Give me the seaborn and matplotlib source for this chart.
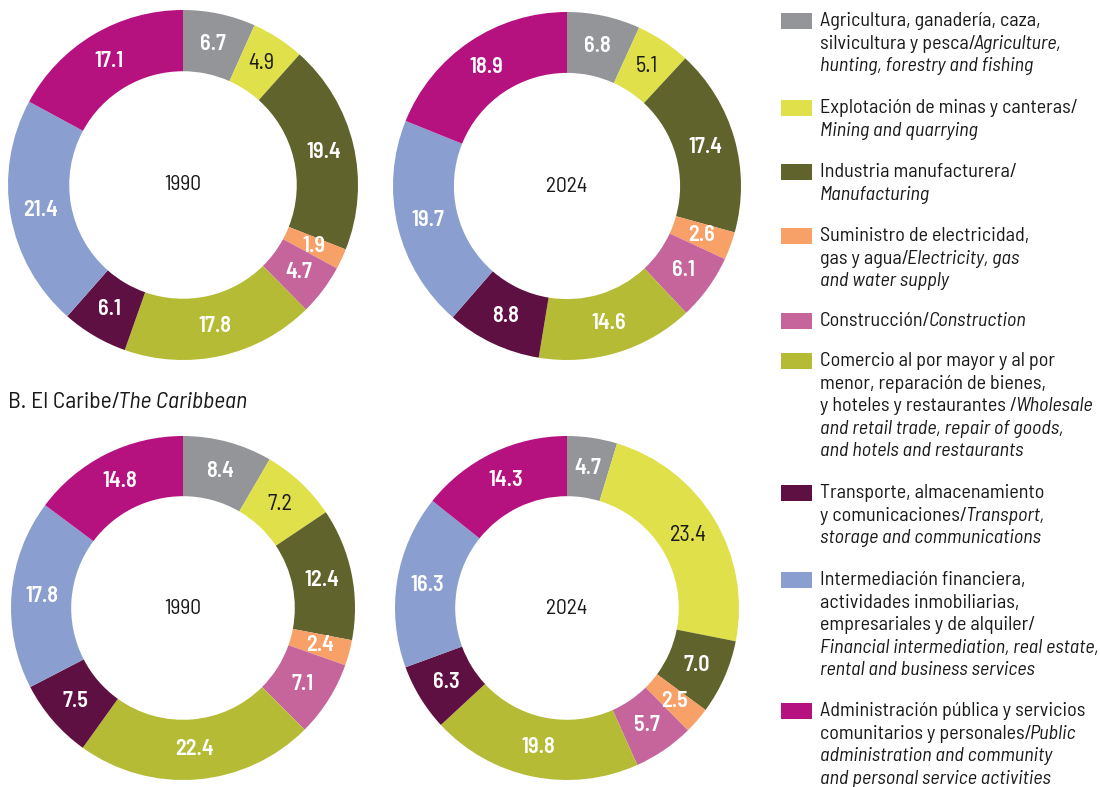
import matplotlib
matplotlib.use("Agg")
import matplotlib.pyplot as plt
from matplotlib import font_manager
import numpy as np
import seaborn as sns

sns.set_theme(style="white")
names = {f.name for f in font_manager.fontManager.ttflist}
FONT = "Barlow Semi Condensed" if "Barlow Semi Condensed" in names else "DejaVu Sans"
plt.rcParams["font.family"] = [FONT, "DejaVu Sans"]

# ---- data ----
sectors = [
    "Agricultura", "Minería", "Manufactura", "Electricidad", "Construcción",
    "Comercio", "Transporte", "Intermediación", "Administración",
]
colors = ["#939598", "#DFE04A", "#60632B", "#F7A068", "#C5659C",
          "#B5BB35", "#5F1042", "#8A9FCF", "#B5117F"]
la_1990 = [6.7, 4.9, 19.4, 1.9, 4.7, 17.8, 6.1, 21.4, 17.1]
la_2024 = [6.8, 5.1, 17.4, 2.6, 6.1, 14.6, 8.8, 19.7, 18.9]
car_1990 = [8.4, 7.2, 12.4, 2.4, 7.1, 22.4, 7.5, 17.8, 14.8]
car_2024 = [4.7, 23.4, 7.0, 2.5, 5.7, 19.8, 6.3, 16.3, 14.3]
years = ["1990", "2024", "1990", "2024"]
subtitle_regular = "B. El Caribe/"
subtitle_italic = "The Caribbean"

legend_lines = [
    [[("Agricultura, ganadería, caza,", "normal")],
     [("silvicultura y pesca/", "normal"), ("Agriculture,", "italic")],
     [("hunting, forestry and fishing", "italic")]],
    [[("Explotación de minas y canteras/", "normal")],
     [("Mining and quarrying", "italic")]],
    [[("Industria manufacturera/", "normal")],
     [("Manufacturing", "italic")]],
    [[("Suministro de electricidad,", "normal")],
     [("gas y agua/", "normal"), ("Electricity, gas", "italic")],
     [("and water supply", "italic")]],
    [[("Construcción/", "normal"), ("Construction", "italic")]],
    [[("Comercio al por mayor y al por", "normal")],
     [("menor, reparación de bienes,", "normal")],
     [("y hoteles y restaurantes /", "normal"), ("Wholesale", "italic")],
     [("and retail trade, repair of goods,", "italic")],
     [("and hotels and restaurants", "italic")]],
    [[("Transporte, almacenamiento", "normal")],
     [("y comunicaciones/", "normal"), ("Transport,", "italic")],
     [("storage and communications", "italic")]],
    [[("Intermediación financiera,", "normal")],
     [("actividades inmobiliarias,", "normal")],
     [("empresariales y de alquiler/", "normal")],
     [("Financial intermediation, real estate,", "italic")],
     [("rental and business services", "italic")]],
    [[("Administración pública y servicios", "normal")],
     [("comunitarios y personales/", "normal"), ("Public", "italic")],
     [("administration and community", "italic")],
     [("and personal service activities", "italic")]],
]

W, H = 1100, 787
fig = plt.figure(figsize=(W / 100, H / 100), dpi=100)
fig.patch.set_facecolor("white")
TXT = "#1a1a1a"


def px_axes(cx, cy, r):
    return fig.add_axes([(cx - r) / W, (H - cy - r) / H, 2 * r / W, 2 * r / H])


centers = [(183, 185, 175), (567, 186, 174), (183, 608, 172), (567, 608, 172)]
datasets = [la_1990, la_2024, car_1990, car_2024]
ring = 0.35
for (cx, cy, r), vals, yr in zip(centers, datasets, years):
    ax = px_axes(cx, cy, r)
    ax.pie(vals, colors=colors, startangle=90, counterclock=False,
           radius=1.0, wedgeprops=dict(width=ring, linewidth=0))
    cum = np.cumsum([0] + vals[:-1])
    total = sum(vals)
    rl = 1 - ring / 2
    for i, v in enumerate(vals):
        ang = np.deg2rad(90 - 360 * (cum[i] + v / 2) / total)
        dark = (i == 1)
        ax.text(rl * np.cos(ang), rl * np.sin(ang), f"{v:.1f}", ha="center",
                va="center", color=TXT if dark else "white", fontsize=16,
                fontweight="normal" if dark else "semibold")
    ax.text(0, 0, yr, ha="center", va="center", fontsize=15.5, color=TXT)
    ax.set_xlim(-1, 1)
    ax.set_ylim(-1, 1)
    ax.set_aspect("equal")
    ax.axis("off")

renderer = fig.canvas.get_renderer()

# subtitle
t1 = fig.text(8 / W, 1 - 402 / H, subtitle_regular, ha="left", va="center",
              fontsize=17, color=TXT)
bb = t1.get_window_extent(renderer)
fig.text((bb.x1 - 2) / W, 1 - 402 / H, subtitle_italic, ha="left", va="center",
         fontsize=17, style="italic", color=TXT)

# legend
item_y = [21, 108, 172, 236, 321, 361, 493, 580, 711]
line_h = 22.6
lfs = 14.5
for k, (lines, yc) in enumerate(zip(legend_lines, item_y)):
    fig.patches.append(plt.Rectangle((781 / W, 1 - (yc + 8) / H), 31 / W, 16 / H,
                                     transform=fig.transFigure, color=colors[k],
                                     linewidth=0))
    for j, segs in enumerate(lines):
        y = 1 - (yc + j * line_h) / H
        x = 820 / W
        for text, st in segs:
            t = fig.text(x, y, text, ha="left", va="center", fontsize=lfs,
                         style=st, color=TXT)
            x = (t.get_window_extent(renderer).x1 - 2) / W

fig.savefig("out.png", dpi=100, facecolor="white")
